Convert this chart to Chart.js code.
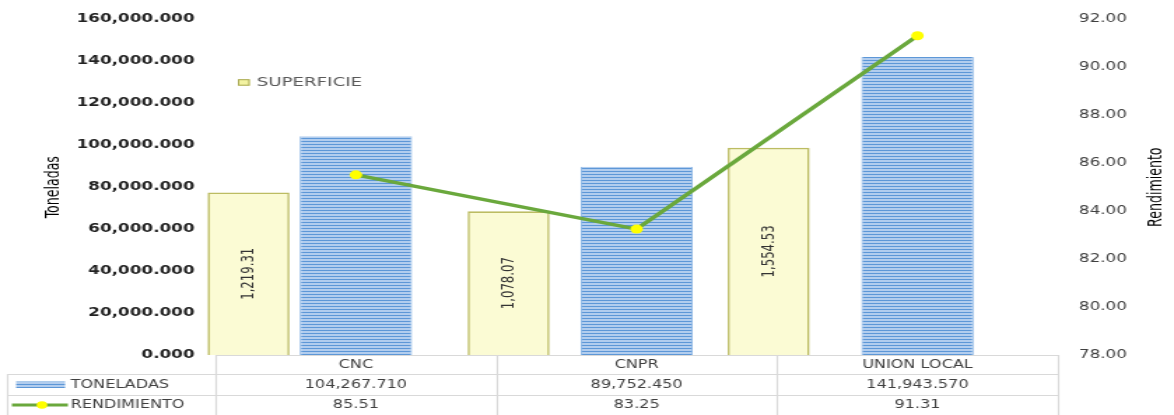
<!DOCTYPE html>
<html>
<head>
<meta charset="utf-8">
<script src="https://cdn.jsdelivr.net/npm/chart.js@4.4.1/dist/chart.umd.min.js"></script>
<style>
html,body{margin:0;padding:0;background:#fff;overflow:hidden;}
/* the original picture is an Excel chart stretched sideways, so draw narrow and widen;
   shifted up a little because the tick labels reserve room above the plot */
#wrap{position:relative;top:-3px;width:839px;height:418px;transform:scaleX(1.39928);transform-origin:0 0;}
</style>
</head>
<body>
<div id="wrap"><canvas id="c"></canvas></div>
<script>
// ---- data ----
const categories  = ['CNC','CNPR','UNION LOCAL'];
const toneladas   = [104267.710, 89752.450, 141943.570];
const rendimiento = [85.51, 83.25, 91.31];
const superficie  = [1219.31, 1078.07, 1554.53];
const tonAxis  = {min:0,  max:160000, step:20000};
const rendAxis = {min:78, max:92,     step:2};
const supAxisMax = 2520;   // hidden axis of the yellow bars

const GREEN='#6aa83c', YELLOW_DOT='#ffff00', TXT='#404040';
const NARROW='"Liberation Sans Narrow","DejaVu Sans Condensed",sans-serif';

const fmt3 = v => v.toLocaleString('en-US',{minimumFractionDigits:3,maximumFractionDigits:3});
const fmt2 = v => v.toLocaleString('en-US',{minimumFractionDigits:2,maximumFractionDigits:2});

function stripes(){
  const c=document.createElement('canvas'); c.width=4; c.height=3;
  const g=c.getContext('2d');
  g.fillStyle='#b2cdee'; g.fillRect(0,0,4,3);
  g.fillStyle='#5d97d7'; g.fillRect(0,0,4,1);
  return g.createPattern(c,'repeat');
}
const blueFill = stripes();

// data table under the plot, legend, rotated labels and axis titles
const extras = {
  id:'extras',
  afterDatasetsDraw(chart){
    const ctx=chart.ctx;
    const meta=chart.getDatasetMeta(2);
    ctx.save();
    ctx.font='13px '+NARROW; ctx.fillStyle='#333';
    ctx.textAlign='center'; ctx.textBaseline='middle';
    meta.data.forEach((bar,i)=>{
      ctx.save();
      ctx.translate(bar.x,(bar.y+bar.base)/2);
      ctx.rotate(-Math.PI/2);
      ctx.fillText(fmt2(superficie[i]),0,0);
      ctx.restore();
    });
    ctx.restore();
  },
  afterDraw(chart){
    const ctx=chart.ctx, xs=chart.scales.x, a=chart.chartArea;
    const n=categories.length, cw=(xs.right-xs.left)/n;
    const r0=a.bottom, r1=r0+19, r2=r0+40, bot=r0+60, tl=5;
    ctx.save();
    ctx.strokeStyle='#d9d9d9'; ctx.lineWidth=1.2;
    ctx.beginPath();
    ctx.moveTo(xs.left,r0+0.5); ctx.lineTo(xs.right,r0+0.5);
    [r1,r2].forEach(y=>{ctx.moveTo(tl,y+0.5); ctx.lineTo(xs.right,y+0.5);});
    for(let k=0;k<=n;k++){
      const x=Math.round(xs.left+k*cw)+0.5;
      ctx.moveTo(x,r0); ctx.lineTo(x,bot);
    }
    ctx.moveTo(tl+0.5,r1); ctx.lineTo(tl+0.5,bot);
    ctx.stroke();

    // values
    ctx.font='11.5px "DejaVu Sans"'; ctx.fillStyle=TXT;
    ctx.textAlign='center'; ctx.textBaseline='middle';
    const y1=(r1+r2)/2+0.5, y2=(r2+bot)/2;
    categories.forEach((c,i)=>{
      const cx=xs.left+(i+0.5)*cw;
      ctx.fillText(fmt3(toneladas[i]),cx,y1);
      ctx.fillText(fmt2(rendimiento[i]),cx,y2);
    });

    // legend keys in the table
    ctx.fillStyle=blueFill; ctx.fillRect(11.5,y1-3.5,35,6.5);
    ctx.strokeStyle=GREEN; ctx.lineWidth=3;
    ctx.beginPath(); ctx.moveTo(8.5,y2); ctx.lineTo(48.5,y2); ctx.stroke();
    ctx.fillStyle=YELLOW_DOT; ctx.beginPath(); ctx.arc(30,y2,3.8,0,Math.PI*2); ctx.fill();
    ctx.fillStyle=TXT; ctx.textAlign='left';
    ctx.fillText('TONELADAS',50.5,y1);
    ctx.fillText('RENDIMIENTO',50.5,y2);

    // SUPERFICIE legend
    const ly=a.top+63.5;
    ctx.fillStyle='#f3f3a2'; ctx.strokeStyle='#a9a955'; ctx.lineWidth=1;
    ctx.fillRect(170,ly-3.5,8.5,6.5); ctx.strokeRect(170.5,ly-3,7.5,5.5);
    ctx.font='13px "DejaVu Sans"'; ctx.fillStyle='#595959';
    ctx.fillText('SUPERFICIE',183.5,ly);

    // axis titles
    ctx.font='14px '+NARROW; ctx.fillStyle='#000'; ctx.textAlign='center';
    [['Toneladas',38.5],['Rendimiento',826.5]].forEach(([t,x])=>{
      ctx.save(); ctx.translate(x,a.top+168); ctx.rotate(-Math.PI/2);
      ctx.fillText(t,0,0); ctx.restore();
    });
    ctx.restore();
  }
};

Chart.defaults.font.family='"DejaVu Sans", sans-serif';

new Chart(document.getElementById('c'),{
  data:{
    labels:categories,
    datasets:[
      {type:'line',label:'RENDIMIENTO',data:rendimiento,xAxisID:'x',yAxisID:'y2',order:0,
       borderColor:GREEN,borderWidth:3.5,tension:0,
       pointRadius:4.5,pointBackgroundColor:YELLOW_DOT,pointBorderColor:YELLOW_DOT,pointBorderWidth:0},
      {type:'bar',label:'TONELADAS',data:toneladas,xAxisID:'x',yAxisID:'y',order:1,grouped:false,
       backgroundColor:blueFill,borderColor:'#7faee2',borderWidth:{left:1,right:1,top:0,bottom:0},
       categoryPercentage:1,barPercentage:0.4},
      {type:'bar',label:'SUPERFICIE',data:superficie.map((v,i)=>({x:i,y:v})),xAxisID:'x2',yAxisID:'y3',order:2,grouped:false,
       clip:false,backgroundColor:'#fbfbd4',borderColor:'#bcbc62',borderWidth:1.6,
       categoryPercentage:1,barPercentage:0.315}
    ]
  },
  plugins:[extras],
  options:{
    responsive:true, maintainAspectRatio:false, animation:false,
    layout:{padding:{top:14,left:0,right:0,bottom:0}},
    plugins:{legend:{display:false},tooltip:{enabled:false}},
    scales:{
      x:{type:'category',position:'bottom',offset:true,
         grid:{display:false,drawTicks:false},border:{display:false},
         ticks:{color:TXT,font:{size:11.5},padding:3,maxRotation:0},
         afterFit(s){s.height=60;}},
      x2:{type:'linear',display:false,offset:false,min:-0.127,max:3.112,
          grid:{offset:false},ticks:{stepSize:1,includeBounds:false}},
      y:{position:'left',min:tonAxis.min,max:tonAxis.max,
         grid:{display:false,drawTicks:false},border:{display:false},
         ticks:{stepSize:tonAxis.step,callback:v=>fmt3(v),color:'#222',font:{size:12,weight:'bold'},padding:15},
         afterFit(s){s.width=154;}},
      y2:{position:'right',min:rendAxis.min,max:rendAxis.max,
         grid:{display:false,drawTicks:false},border:{display:false},
         ticks:{stepSize:rendAxis.step,callback:v=>fmt2(v),color:TXT,font:{size:12},padding:15},
         afterFit(s){s.width=83;}},
      y3:{display:false,min:0,max:supAxisMax}
    }
  }
});
</script>
</body>
</html>
